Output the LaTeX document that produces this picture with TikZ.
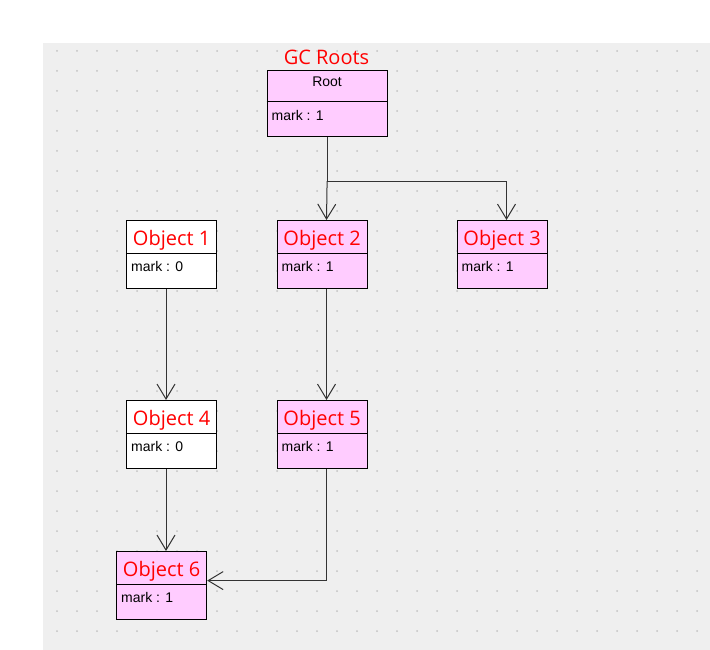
\documentclass[tikz,border=0pt]{standalone}
\usepackage{fontspec}
\setmainfont{Liberation Sans}
\newfontfamily\titlefont{Open Sans}
\usetikzlibrary{arrows.meta}
\definecolor{canvasgrey}{HTML}{EFEFEF}
\definecolor{gridgrey}{HTML}{C2C2C2}
\definecolor{objpink}{HTML}{FFCCFF}
\definecolor{linegrey}{HTML}{333333}
\tikzset{
	objbox/.style={draw=black, line width=1.2pt, minimum width=90, minimum height=68, anchor=north west, inner sep=0pt},
	divider/.style={draw=black, line width=1pt},
	titletext/.style={font=\titlefont\fontsize{20}{24}\selectfont, text=red, inner sep=0pt, anchor=base},
	marktext/.style={font=\fontsize{14}{16}\selectfont, inner sep=0pt, anchor=base west},
	ref/.style={draw=linegrey, line width=1pt, -{Straight Barb[length=15pt, width=18pt]}},
	link/.style={draw=linegrey, line width=1pt},
}
\begin{document}
\begin{tikzpicture}[x=1pt, y=-1pt]
	\newcommand{\topheight}{33}
	\newcommand{\objbox}[6]{%
		\node [objbox, fill=#4] (#1) at (#2,#3) {};
		\draw [divider] ([yshift=-\topheight]#1.north west) -- ([yshift=-\topheight]#1.north east);
		\node [titletext] (#1-title) at ([yshift=-25]#1.north) {#5};
		\node [marktext] (#1-mark) at ([xshift=5,yshift=-51]#1.north west) {#6};
	}
	\useasboundingbox (0,0) rectangle (710,650);
	%canvas
	\fill [canvasgrey] (43,43) rectangle (710,650);
	\foreach \gx in {57,77,...,697}
		\foreach \gy in {51,71,...,631}
			\fill [gridgrey] (\gx,\gy) circle (1);
	%root
	\node [titletext] (gcroots) at (326.5,65) {GC Roots};
	\node [objbox, fill=objpink, minimum width=120, minimum height=66] (root) at (266.5,70) {};
	\draw [divider] ([yshift=-32]root.north west) -- ([yshift=-32]root.north east);
	\node [marktext, anchor=base] (root-title) at ([yshift=-17]root.north) {Root};
	\node [marktext] (root-mark) at ([xshift=5,yshift=-51]root.north west) {mark : 1};
	%objects
	\objbox{o1}{126}{220}{white}{Object 1}{mark : 0}
	\objbox{o2}{276.5}{220}{objpink}{Object 2}{mark : 1}
	\objbox{o3}{456.5}{220}{objpink}{Object 3}{mark : 1}
	\objbox{o4}{126}{400}{white}{Object 4}{mark : 0}
	\objbox{o5}{276.5}{400}{objpink}{Object 5}{mark : 1}
	\objbox{o6}{116}{551}{objpink}{Object 6}{mark : 1}
	%references
	\coordinate (fork) at ([yshift=-44]root.south);
	\draw [link] (root.south) -- (fork);
	\draw [ref] (fork) -- ([xshift=50]o2.north west);
	\draw [ref] (fork) -| ([xshift=50]o3.north west);
	\draw [ref] ([xshift=40]o1.south west) -- ([xshift=40]o4.north west);
	\draw [ref] ([xshift=50]o2.south west) -- ([xshift=50]o5.north west);
	\draw [ref] ([xshift=40]o4.south west) -- ([xshift=50]o6.north west);
	\draw [ref] ([xshift=50]o5.south west) |- ([yshift=5]o6.east);
\end{tikzpicture}
\end{document}
